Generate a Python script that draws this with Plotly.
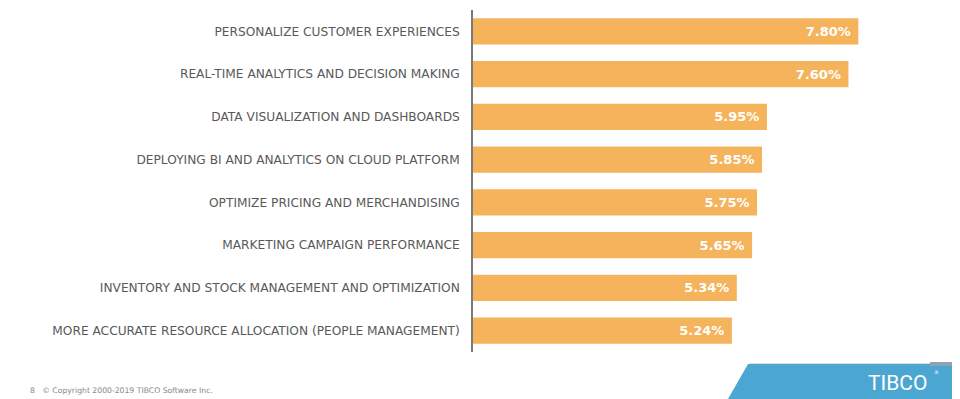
import plotly.graph_objects as go

categories = [
    "PERSONALIZE CUSTOMER EXPERIENCES",
    "REAL-TIME ANALYTICS AND DECISION MAKING",
    "DATA VISUALIZATION AND DASHBOARDS",
    "DEPLOYING BI AND ANALYTICS ON CLOUD PLATFORM",
    "OPTIMIZE PRICING AND MERCHANDISING",
    "MARKETING CAMPAIGN PERFORMANCE",
    "INVENTORY AND STOCK MANAGEMENT AND OPTIMIZATION",
    "MORE ACCURATE RESOURCE ALLOCATION (PEOPLE MANAGEMENT)",
]
values = [7.80, 7.60, 5.95, 5.85, 5.75, 5.65, 5.34, 5.24]
value_labels = ["7.80%", "7.60%", "5.95%", "5.85%", "5.75%", "5.65%", "5.34%", "5.24%"]

OFF = 8  # page body margin
W, H = 960 - OFF, 399 - OFF
L, R, T = 473 - OFF, 10, 10 - OFF
B = H - (352 - OFF)
pw, ph = W - L - R, H - T - B

def px(x):
    return (x - OFF - L) / pw

def py(y):
    return (H - B - (y - OFF)) / ph

fig = go.Figure()
fig.add_trace(go.Bar(
    x=values, y=categories, orientation="h",
    marker=dict(color="#F5B35B", line=dict(width=0)),
    text=[t + "&nbsp;" for t in value_labels], textposition="inside", insidetextanchor="end",
    textfont=dict(family="DejaVu Sans", size=13, color="white", weight="bold"),
    hoverinfo="skip",
))

fig.update_layout(
    width=W, height=H,
    margin=dict(l=L, r=R, t=T, b=B),
    paper_bgcolor="white", plot_bgcolor="white",
    showlegend=False,
    bargap=0.39,
    xaxis=dict(range=[0, pw / 49.4], visible=False, fixedrange=True),
    yaxis=dict(
        autorange="reversed",
        showline=True, linecolor="#7a7a7a", linewidth=1.5,
        showgrid=False, zeroline=False,
        ticks="", ticklabelstandoff=9,
        tickfont=dict(family="DejaVu Sans", size=12.2, color="#595959"),
    ),
)

# footer banner
fig.add_shape(type="path", xref="paper", yref="paper",
              path=f"M {px(748)} {py(364)} L {px(960)} {py(364)} L {px(960)} {py(399)} L {px(728)} {py(399)} Z",
              fillcolor="#4BA7D2", line=dict(width=0), layer="above")
fig.add_shape(type="rect", xref="paper", yref="paper",
              x0=px(930), x1=px(960), y0=py(366), y1=py(362),
              fillcolor="#8FA3AE", line=dict(width=0), layer="above")
fig.add_shape(type="line", xref="paper", yref="paper",
              x0=px(750), x1=px(930), y0=py(363.5), y1=py(363.5),
              line=dict(color="#dddddd", width=1), layer="above")

fig.add_annotation(xref="paper", yref="paper", x=px(866), y=py(383),
                   text="TIBCO", showarrow=False, xanchor="left", yanchor="middle",
                   font=dict(family="Roboto", size=21, color="white"))
fig.add_annotation(xref="paper", yref="paper", x=px(936), y=py(372),
                   text="®", showarrow=False, xanchor="center", yanchor="middle",
                   font=dict(family="DejaVu Sans", size=5, color="white"))
fig.add_annotation(xref="paper", yref="paper", x=px(28), y=py(390),
                   text="8&nbsp;&nbsp;&nbsp;© Copyright 2000-2019 TIBCO Software Inc.",
                   showarrow=False, xanchor="left", yanchor="middle",
                   font=dict(family="DejaVu Sans", size=7.7, color="#888888"))

fig.write_html("out.html")
